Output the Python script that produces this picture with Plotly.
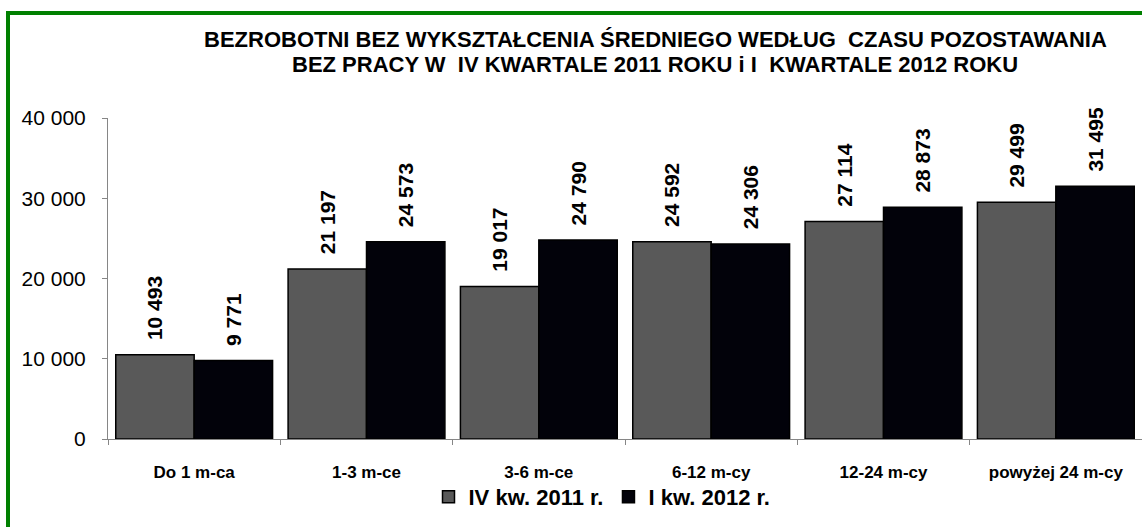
import plotly.graph_objects as go

categories = ["Do 1 m-ca", "1-3 m-ce", "3-6 m-ce", "6-12 m-cy", "12-24 m-cy", "powyżej 24 m-cy"]
series_2011 = [10493, 21197, 19017, 24592, 27114, 29499]
series_2012 = [9771, 24573, 24790, 24306, 28873, 31495]
series_names = ["IV kw. 2011 r.", "I kw. 2012 r."]
title_lines = ["BEZROBOTNI BEZ WYKSZTAŁCENIA ŚREDNIEGO WEDŁUG  CZASU POZOSTAWANIA",
               "BEZ PRACY W  IV KWARTALE 2011 ROKU i I  KWARTALE 2012 ROKU"]

W, H = 1142, 527
ml, mr, mt, mb = 108, 0, 118, 88
pw = W - ml - mr
ph = H - mt - mb

font_family = "Liberation Sans, Arial, sans-serif"


def px_x(x):
    return (x - ml) / pw


def px_y(y):
    return (H - mb - y) / ph


fig = go.Figure()
for name, vals, color in [(series_names[0], series_2011, "#595959"),
                          (series_names[1], series_2012, "#02020a")]:
    fig.add_trace(go.Bar(
        x=categories, y=vals, name=name,
        marker=dict(color=color, line=dict(color="#000000", width=1.5)),
        texttemplate="\u00a0\u00a0%{y:,}", textposition="outside", textangle=-90,
        textfont=dict(family=font_family, size=21, color="#000000", weight="bold"),
        constraintext="none", cliponaxis=False,
    ))

annotations = []
for line, yc in zip(title_lines, [39.5, 64.5]):
    annotations.append(dict(
        text=line, xref="paper", yref="paper", x=px_x(655), y=px_y(yc),
        xanchor="center", yanchor="middle", showarrow=False,
        font=dict(family=font_family, size=22, color="#000000", weight="bold"),
    ))

fig.update_layout(
    width=W, height=H,
    margin=dict(l=ml, r=mr, t=mt, b=mb, pad=0),
    paper_bgcolor="white", plot_bgcolor="white",
    barmode="group", bargap=0.09, bargroupgap=0,
    separators=", ",
    font=dict(family=font_family, color="#000000"),
    annotations=annotations,
    showlegend=True,
    legend=dict(
        orientation="h", x=px_x(602), xanchor="center", y=px_y(497), yanchor="middle",
        font=dict(family=font_family, size=22, color="#000000", weight="bold"),
        itemwidth=30, tracegroupgap=0, bgcolor="rgba(0,0,0,0)",
    ),
    xaxis=dict(
        showline=True, linecolor="#868686", linewidth=1,
        ticks="outside", ticklen=5, tickcolor="#868686", tickson="boundaries",
        tickfont=dict(family=font_family, size=17, color="#000000", weight="bold"),
        ticklabelstandoff=18,
        showgrid=False, zeroline=False,
    ),
    yaxis=dict(
        range=[0, 40000], dtick=10000, tickformat=",d",
        showline=True, linecolor="#868686", linewidth=1,
        ticks="outside", ticklen=5, tickcolor="#868686",
        tickfont=dict(family=font_family, size=21, color="#000000"),
        ticklabelstandoff=12,
        showgrid=False, zeroline=False,
    ),
    shapes=[dict(
        type="rect", xref="paper", yref="paper",
        x0=px_x(8), x1=px_x(W + 20), y0=px_y(H + 20), y1=px_y(13),
        line=dict(color="#008000", width=4), fillcolor="rgba(0,0,0,0)", layer="below",
    )],
)

fig.write_html(
    "out.html",
    config={"displayModeBar": False},
    post_script="document.body.style.margin='0';document.body.style.overflow='hidden';",
)
